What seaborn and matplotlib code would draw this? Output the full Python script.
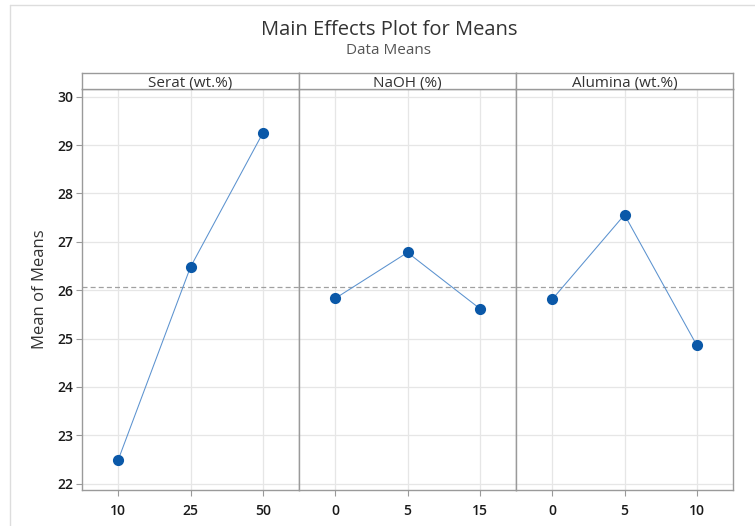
import matplotlib
matplotlib.use("Agg")
import matplotlib.pyplot as plt
import seaborn as sns
import pandas as pd
from matplotlib.lines import Line2D

# ---- data ----
factors = ["Serat (wt.%)", "NaOH (%)", "Alumina (wt.%)"]
serat_levels = ["10", "25", "50"]
serat_means = [22.49, 26.48, 29.25]
naoh_levels = ["0", "5", "15"]
naoh_means = [25.83, 26.78, 25.62]
alumina_levels = ["0", "5", "10"]
alumina_means = [25.81, 27.56, 24.86]
grand_mean = 26.07
y_ticks = [22, 23, 24, 25, 26, 27, 28, 29, 30]

levels = [serat_levels, naoh_levels, alumina_levels]
means = [serat_means, naoh_means, alumina_means]

sns.set_theme(style="white")
plt.rcParams["font.family"] = ["Open Sans", "DejaVu Sans"]

W, H = 755, 526
fig = plt.figure(figsize=(W / 100, H / 100), dpi=100)

left_px, right_px = 82, 733
top_px, bot_px = 89, 490
strip_top = 73
pw = (right_px - left_px) / 3

line_col = "#5b92cf"
mark_col = "#0a58a8"
spine_col = "#9a9a9a"
grid_col = "#e6e6e6"

axes = []
for i in range(3):
    x0 = (left_px + i * pw) / W
    ax = fig.add_axes([x0, 1 - bot_px / H, pw / W, (bot_px - top_px) / H])
    axes.append(ax)
    df = pd.DataFrame({"level": levels[i], "mean": means[i]})
    sns.pointplot(data=df, x="level", y="mean", order=levels[i], ax=ax,
                  color=line_col, markers="", linewidth=0.75, errorbar=None)
    sns.pointplot(data=df, x="level", y="mean", order=levels[i], ax=ax,
                  color=mark_col, markers="o", linestyle="none",
                  markersize=6, errorbar=None)
    ax.axhline(grand_mean, color="#a0a0a0", lw=0.9, ls=(0, (4, 2.5)), zorder=1)
    ax.set_xlim(-0.5, 2.5)
    ax.set_ylim(21.87, 30.16)
    ax.set_yticks(y_ticks)
    ax.set_xlabel("")
    ax.set_ylabel("")
    ax.grid(True, color=grid_col, lw=0.9)
    ax.set_axisbelow(True)
    for s in ax.spines.values():
        s.set_color(spine_col)
        s.set_linewidth(1.0)
    ax.tick_params(axis="x", bottom=True, length=4, width=0.8, color=spine_col,
                   labelsize=10, labelcolor="#1a1a1a", pad=6)
    for t in ax.get_xticklabels():
        t.set_fontweight("semibold")
    if i == 0:
        ax.tick_params(axis="y", left=True, length=4, width=0.8, color=spine_col,
                       labelsize=10, labelcolor="#1a1a1a", pad=2)
        for t in ax.get_yticklabels():
            t.set_fontweight("semibold")
        ax.set_ylabel("Mean of Means", fontsize=12, color="#333333", labelpad=7)
    else:
        ax.tick_params(axis="y", left=False, labelleft=False)

    # strip header
    sax = fig.add_axes([x0, 1 - top_px / H, pw / W, (top_px - strip_top) / H])
    sax.set_xticks([])
    sax.set_yticks([])
    for s in sax.spines.values():
        s.set_color(spine_col)
        s.set_linewidth(1.0)
    sax.text(0.5, 0.32, factors[i], ha="center", va="center", fontsize=11,
             color="#333333", transform=sax.transAxes)

fig.text(389 / W, 1 - 30 / H, "Main Effects Plot for Means", ha="center",
         va="center", fontsize=14.5, color="#333333")
fig.text(389 / W, 1 - 50 / H, "Data Means", ha="center", va="center",
         fontsize=11, color="#555555")

# outer light frame
fig.add_artist(Line2D([10 / W, 10 / W], [1 - 5 / H, 0], color="#dddddd", lw=1))
fig.add_artist(Line2D([10 / W, 1], [1 - 5 / H, 1 - 5 / H], color="#dddddd", lw=1))

fig.savefig("out.png", dpi=100)
